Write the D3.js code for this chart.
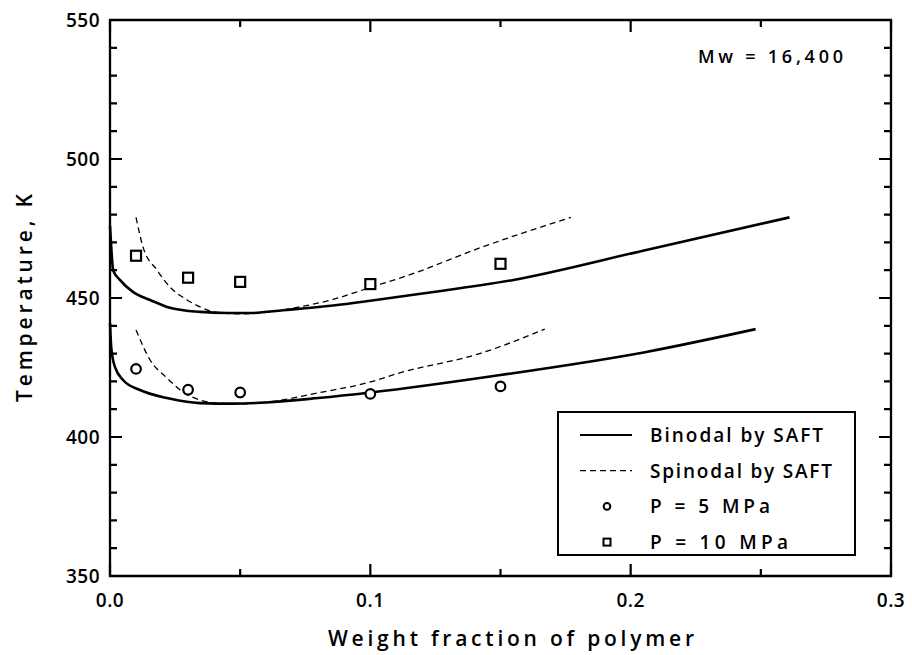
<!DOCTYPE html>
<html>
<head>
<meta charset="utf-8">
<script src="https://cdn.jsdelivr.net/npm/d3@7"></script>
<style>
  html, body { margin: 0; padding: 0; background: #fff; }
  svg { display: block; }
  text { font-family: "Open Sans", "DejaVu Sans", sans-serif; font-weight: 600; fill: #000; }
</style>
</head>
<body>
<svg id="chart" width="912" height="655"></svg>
<script>
// Cloud-point data, Mw = 16,400
const fractions = [0.01, 0.03, 0.05, 0.10, 0.15];
const temps5MPa = [424.5, 417.0, 416.0, 415.5, 418.2];
const temps10MPa = [465.2, 457.3, 455.8, 455.0, 462.3];

// SAFT binodal curves [weight fraction, T]
const binodal10MPa = [[0, 476], [0.0005, 468], [0.0012, 460], [0.0038, 456.5], [0.0088, 452.2],
  [0.0154, 449.3], [0.0219, 446.8], [0.0346, 445.0], [0.045, 444.6], [0.054, 444.6],
  [0.0665, 445.6], [0.0857, 447.3], [0.1, 449.0], [0.12, 451.6], [0.155, 456.5],
  [0.206, 467.3], [0.261, 479]];
const binodal5MPa = [[0, 441], [0.0005, 432], [0.0019, 425.2], [0.005, 420.5], [0.0115, 416.9],
  [0.0219, 414.0], [0.0346, 412.2], [0.047, 412.0], [0.06, 412.4], [0.08, 414.0],
  [0.1, 416.0], [0.15, 422.3], [0.206, 430.6], [0.248, 438.8]];

// SAFT spinodal curves [weight fraction, T]
const spinodal10MPa = [[0.01, 479], [0.0127, 468.3], [0.018, 460.1], [0.023, 454.0], [0.0296, 449.3],
  [0.0346, 446.8], [0.041, 444.8], [0.05, 444.3], [0.06, 444.8], [0.07, 446.3],
  [0.0857, 449.5], [0.1, 453.8], [0.115, 458.3], [0.142, 468.0], [0.177, 479]];
const spinodal5MPa = [[0.01, 438.5], [0.0154, 427.7], [0.0219, 421.2], [0.028, 416.2], [0.0346, 413.3],
  [0.041, 412.2], [0.05, 411.9], [0.06, 412.5], [0.0795, 415.8], [0.1, 419.8],
  [0.111, 423.0], [0.142, 430.0], [0.167, 438.8]];

const xMajor = [0, 0.1, 0.2, 0.3];
const xMinor = [0.05, 0.15, 0.25];
const yMajor = [350, 400, 450, 500, 550];
const yMinor = d3.range(360, 550, 10).filter(v => v % 50 !== 0);

const legendItems = ["Binodal by SAFT", "Spinodal by SAFT", "P = 5 MPa", "P = 10 MPa"];
const annotation = "Mw = 16,400";

const svg = d3.select("#chart");
const plotLeft = 110, plotRight = 891, plotTop = 20, plotBottom = 576;

const x = d3.scaleLinear().domain([0, 0.3]).range([plotLeft, plotRight]);
const y = d3.scaleLinear().domain([350, 550]).range([plotBottom, plotTop]);

// frame
svg.append("path")
  .attr("d", `M${plotLeft},${plotTop}H${plotRight}V${plotBottom}H${plotLeft}Z`)
  .attr("fill", "none").attr("stroke", "#000").attr("stroke-width", 2.3);

// inward ticks on all four sides
const tickPath = d3.path();
function xTicks(vals, len) {
  vals.forEach(v => {
    tickPath.moveTo(x(v), plotBottom); tickPath.lineTo(x(v), plotBottom - len);
    tickPath.moveTo(x(v), plotTop); tickPath.lineTo(x(v), plotTop + len);
  });
}
function yTicks(vals, len) {
  vals.forEach(v => {
    tickPath.moveTo(plotLeft, y(v)); tickPath.lineTo(plotLeft + len, y(v));
    tickPath.moveTo(plotRight, y(v)); tickPath.lineTo(plotRight - len, y(v));
  });
}
xTicks(xMajor, 12); xTicks(xMinor, 7);
yTicks(yMajor, 12); yTicks(yMinor, 7);
svg.append("path").attr("d", tickPath.toString())
  .attr("fill", "none").attr("stroke", "#000").attr("stroke-width", 2.2);

// tick labels
svg.append("g").selectAll("text").data(xMajor).join("text")
  .attr("x", d => x(d)).attr("y", 607).attr("text-anchor", "middle")
  .style("font-size", "19px").style("letter-spacing", "0.5px")
  .text(d3.format(".1f"));
svg.append("g").selectAll("text").data(yMajor).join("text")
  .attr("x", 100).attr("y", d => y(d)).attr("dy", "0.36em").attr("text-anchor", "end")
  .style("font-size", "19px").style("letter-spacing", "0.5px")
  .text(d3.format("d"));

// axis titles
svg.append("text").attr("x", 511).attr("y", 646)
  .attr("text-anchor", "middle").style("font-size", "21px")
  .attr("textLength", 366).attr("lengthAdjust", "spacing")
  .text("Weight fraction of polymer");
svg.append("text").attr("transform", "translate(32,298) rotate(-90)")
  .attr("text-anchor", "middle").style("font-size", "21px")
  .attr("textLength", 208).attr("lengthAdjust", "spacing")
  .text("Temperature, K");

// curves
const line = d3.line().x(d => x(d[0])).y(d => y(d[1])).curve(d3.curveMonotoneX);
const plot = svg.append("g");
[binodal10MPa, binodal5MPa].forEach(c => plot.append("path").attr("d", line(c))
  .attr("fill", "none").attr("stroke", "#000").attr("stroke-width", 2.6));
[spinodal10MPa, spinodal5MPa].forEach(c => plot.append("path").attr("d", line(c))
  .attr("fill", "none").attr("stroke", "#000").attr("stroke-width", 1.3)
  .attr("stroke-dasharray", "6,4"));

// experimental points
plot.selectAll("circle.p5").data(fractions).join("circle").attr("class", "p5")
  .attr("cx", d => x(d)).attr("cy", (d, i) => y(temps5MPa[i])).attr("r", 4.8)
  .attr("fill", "#fff").attr("stroke", "#000").attr("stroke-width", 2.2);
const sq = 10;
plot.selectAll("rect.p10").data(fractions).join("rect").attr("class", "p10")
  .attr("x", d => x(d) - sq / 2).attr("y", (d, i) => y(temps10MPa[i]) - sq / 2)
  .attr("width", sq).attr("height", sq)
  .attr("fill", "#fff").attr("stroke", "#000").attr("stroke-width", 2.2);

// annotation
svg.append("text").attr("x", 698).attr("y", 63).style("font-size", "18px")
  .attr("textLength", 145).attr("lengthAdjust", "spacing").text(annotation);

// legend
const lg = svg.append("g");
lg.append("rect").attr("x", 558).attr("y", 412).attr("width", 297).attr("height", 143)
  .attr("fill", "#fff").attr("stroke", "#000").attr("stroke-width", 2);
const rowY = i => 435 + i * 35.7;
lg.append("line").attr("x1", 580).attr("x2", 632).attr("y1", rowY(0)).attr("y2", rowY(0))
  .attr("stroke", "#000").attr("stroke-width", 2);
lg.append("line").attr("x1", 580).attr("x2", 632).attr("y1", rowY(1)).attr("y2", rowY(1))
  .attr("stroke", "#000").attr("stroke-width", 1.2).attr("stroke-dasharray", "6,4");
lg.append("circle").attr("cx", 607).attr("cy", rowY(2)).attr("r", 3.3)
  .attr("fill", "#fff").attr("stroke", "#000").attr("stroke-width", 2);
lg.append("rect").attr("x", 603.5).attr("y", rowY(3) - 3.5).attr("width", 7).attr("height", 7)
  .attr("fill", "#fff").attr("stroke", "#000").attr("stroke-width", 2);
const legendWidths = [173, 182, 120, 138];
lg.selectAll("text.lt").data(legendItems).join("text").attr("class", "lt")
  .attr("x", 650).attr("y", (d, i) => rowY(i)).attr("dy", "0.36em")
  .style("font-size", "19px")
  .attr("textLength", (d, i) => legendWidths[i]).attr("lengthAdjust", "spacing")
  .text(d => d);
</script>
</body>
</html>
